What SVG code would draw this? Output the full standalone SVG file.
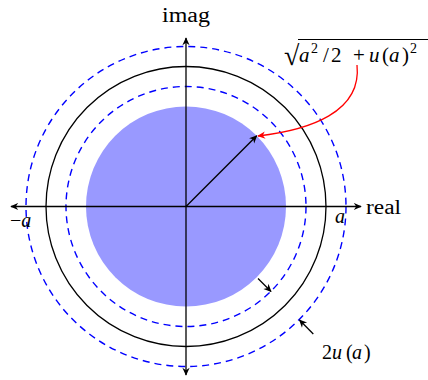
<svg xmlns="http://www.w3.org/2000/svg" width="428" height="380" viewBox="0 0 428 380">
<style>
.ax{stroke:#000;stroke-width:1.3;fill:none}
.blk{stroke:#000;stroke-width:1.3;fill:none}
.dsh{stroke:#0000ff;stroke-width:1.4;fill:none;stroke-dasharray:7 5}
.red{stroke:#ff0000;stroke-width:1.3;fill:none}
.t{font-family:"Liberation Serif","DejaVu Serif",serif;font-size:20px;fill:#000}
.m{font-family:"Liberation Serif","DejaVu Serif",serif;font-style:italic;font-size:20px;fill:#000}
.s{font-size:14px}
.b{font-size:21px}
</style>
<defs>
<marker id="ah" viewBox="0 0 10 10" refX="9" refY="5" markerWidth="9" markerHeight="8" markerUnits="userSpaceOnUse" orient="auto-start-reverse">
<path d="M0,0.5 L10,5 L0,9.5 L3,5 z" fill="#000"/>
</marker>
<marker id="ahr" viewBox="0 0 10 10" refX="9" refY="5" markerWidth="9" markerHeight="8" markerUnits="userSpaceOnUse" orient="auto">
<path d="M0,0.5 L10,5 L0,9.5 L3,5 z" fill="#ff0000"/>
</marker>
</defs>
<g id="disk"><circle cx="186" cy="206.5" r="100" fill="#9999ff"/></g>
<g id="circle-inner-dashed"><circle class="dsh" cx="186" cy="206.5" r="120"/></g>
<g id="circle-solid"><circle class="blk" cx="186" cy="206.5" r="140"/></g>
<g id="circle-outer-dashed"><circle class="dsh" cx="186" cy="206.5" r="160"/></g>
<g id="axes">
<line class="ax" x1="11" y1="206.5" x2="361" y2="206.5" marker-start="url(#ah)" marker-end="url(#ah)"/>
<line class="ax" x1="186" y1="375" x2="186" y2="38" marker-start="url(#ah)" marker-end="url(#ah)"/>
</g>
<g id="connectors">
<line class="blk" x1="186" y1="206.5" x2="256.7" y2="135.8" marker-end="url(#ah)"/>
<path class="red" d="M357,65 C362,112 310,130 258,136" marker-end="url(#ahr)"/>
<line class="blk" x1="258" y1="278.5" x2="271" y2="291.5" marker-end="url(#ah)"/>
<line class="blk" x1="313.3" y1="334" x2="299.5" y2="320" marker-end="url(#ah)"/>
</g>
<g id="label-imag"><text class="t" x="186" y="21.5" text-anchor="middle" textLength="48" lengthAdjust="spacingAndGlyphs">imag</text></g>
<g id="label-real"><text class="t" x="366" y="214.3" textLength="35" lengthAdjust="spacingAndGlyphs">real</text></g>
<g id="label-neg-a"><text class="t" x="10" y="227"><tspan>−</tspan><tspan class="m">a</tspan></text></g>
<g id="label-a"><text class="m" x="335" y="222.5">a</text></g>
<g id="label-sqrt">
<text class="t" x="284" y="65" style="font-size:28px">√</text>
<line x1="298" y1="39.5" x2="428" y2="39.5" stroke="#000" stroke-width="1.1"/>
<text class="t b" y="61.7"><tspan class="m b" x="299">a</tspan><tspan class="s" x="311" dy="-9">2</tspan><tspan x="323" dy="9">/</tspan><tspan x="331">2</tspan><tspan x="353">+</tspan><tspan class="m b" x="369">u</tspan><tspan x="382">(</tspan><tspan class="m b" x="389">a</tspan><tspan x="402">)</tspan><tspan class="s" x="410" dy="-9">2</tspan></text>
</g>
<g id="label-2ua"><text class="t" y="359"><tspan x="322">2</tspan><tspan class="m" x="332">u</tspan><tspan x="346">(</tspan><tspan class="m" x="352">a</tspan><tspan x="364">)</tspan></text></g>
</svg>
